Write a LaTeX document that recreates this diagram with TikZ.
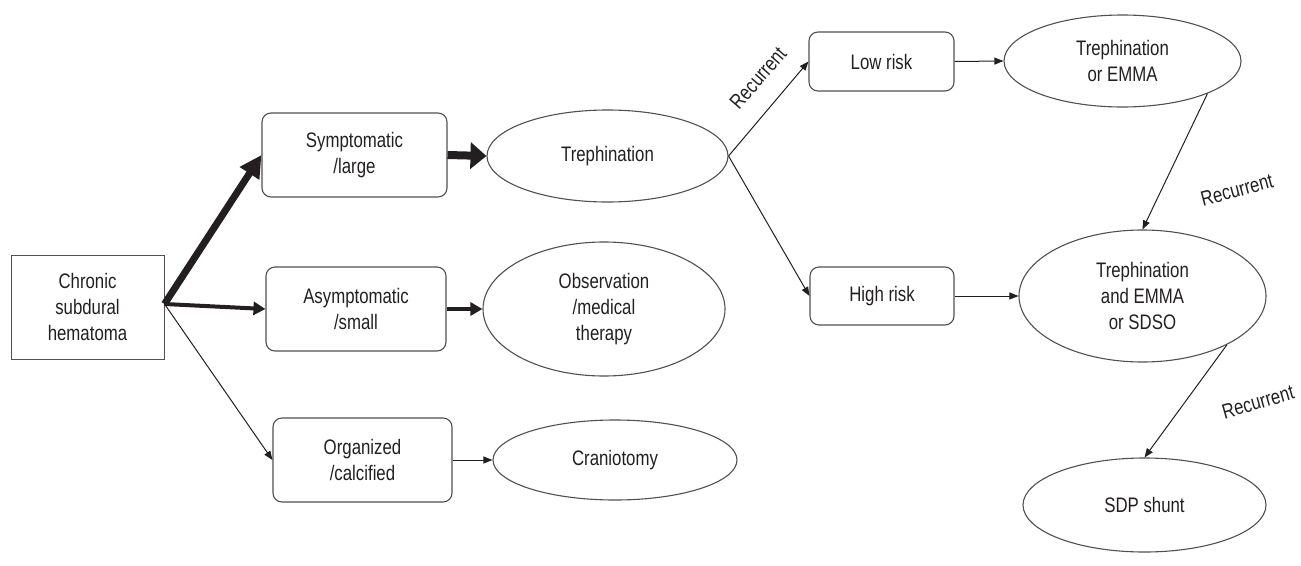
\documentclass[tikz,border=0pt]{standalone}
\usepackage{fontspec}
\setmainfont{Liberation Sans}[FakeStretch=0.8]
\usetikzlibrary{shapes.geometric,arrows.meta}
\definecolor{ink}{HTML}{231F20}
\definecolor{edge}{HTML}{505050}
\begin{document}
\begin{tikzpicture}[x=1pt,y=-1pt,
  every node/.style={text=ink, font=\fontsize{21}{26}\selectfont, align=center, inner sep=0pt},
  sqbox/.style={draw=edge, line width=1pt},
  rbox/.style={draw=edge, line width=1.1pt, rounded corners=9pt},
  ell/.style={ellipse, draw=edge, line width=1.1pt},
  thinarr/.style={draw=ink, line width=1pt, -{Triangle[length=9pt,width=7pt]}},
  midarr/.style={draw=ink, line width=4pt, -{Triangle[length=12pt,width=13pt]}},
  thickarr/.style={draw=ink, line width=7pt, -{Triangle[length=22pt,width=22pt]}},
  bigarr/.style={draw=ink, line width=8pt, -{Triangle[length=16pt,width=26pt]}},
  lbl/.style={text=ink}]
\useasboundingbox (0,0) rectangle (1301,565);
% nodes
\node[sqbox, minimum width=153pt, minimum height=104pt] (chronic) at (87.5,307) {Chronic\\subdural\\hematoma};
\node[rbox, minimum width=185pt, minimum height=84pt] (sym) at (354.5,155) {Symptomatic\\/large};
\node[rbox, minimum width=180pt, minimum height=84pt] (asym) at (356,309) {Asymptomatic\\/small};
\node[rbox, minimum width=179pt, minimum height=84pt] (org) at (362.5,460) {Organized\\/calcified};
\node[ell, minimum width=241pt, minimum height=92pt] (treph) at (607.5,156) {Trephination};
\node[ell, minimum width=242pt, minimum height=134pt] (obs) at (604,309) {Observation\\/medical\\therapy};
\node[ell, minimum width=244pt, minimum height=80pt] (cran) at (615,460) {Craniotomy};
\node[rbox, minimum width=145pt, minimum height=59pt] (low) at (881.5,61.5) {Low risk};
\node[rbox, minimum width=144pt, minimum height=58pt] (high) at (882,296) {High risk};
\node[ell, minimum width=237pt, minimum height=92pt] (tore) at (1122.5,61) {Trephination\\or EMMA};
\node[ell, minimum width=247pt, minimum height=132pt] (te) at (1142.5,296) {Trephination\\and EMMA\\or SDSO};
\node[ell, minimum width=243pt, minimum height=94pt] (sdp) at (1144.5,505) {SDP shunt};
% labels
\node[lbl, rotate=49] (rec1) at (758,78) {Recurrent};
\node[lbl, rotate=15] (rec2) at (1237,190) {Recurrent};
\node[lbl, rotate=16] (rec3) at (1258,402) {Recurrent};
% connectors
\coordinate (cs) at ([yshift=3pt]chronic.east);
\draw[thinarr] (cs) -- (org.west);
\draw[midarr] (cs) -- (asym.west);
\draw[thickarr] (cs) -- (sym.west);
\draw[bigarr] (sym.east) -- (treph.west);
\draw[midarr] (asym.east) -- (obs.west);
\draw[thinarr] (org.east) -- (cran.west);
\draw[thinarr] (treph.east) -- (low.west);
\draw[thinarr] (treph.east) -- (high.west);
\draw[thinarr] (low.east) -- (tore.west);
\draw[thinarr] (high.east) -- (te.west);
\draw[thinarr] (tore.-21) -- (te.north);
\draw[thinarr] (te.-30) -- (sdp.north);
\end{tikzpicture}
\end{document}
